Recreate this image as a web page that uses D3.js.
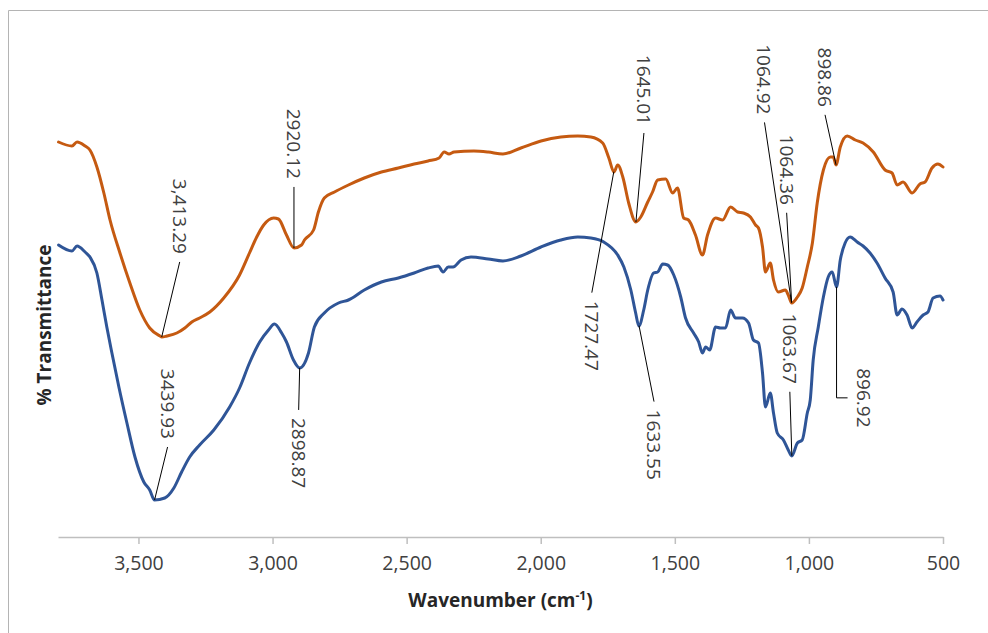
<!DOCTYPE html>
<html>
<head>
<meta charset="utf-8">
<script src="https://cdn.jsdelivr.net/npm/d3@7"></script>
<style>
  body { margin: 0; background: #fff; }
  svg { display: block; font-family: "Open Sans", sans-serif; }
</style>
</head>
<body>
<svg id="chart" width="988" height="633"></svg>
<script>
// x axis ticks (wavenumber, cm-1)
const xTicks = [3500, 3000, 2500, 2000, 1500, 1000, 500];

// orange spectrum: [wavenumber, %T]
const orangeSpectrum = [
    [3798, 79.0], [3748, 78.2], [3729, 79.0], [3699, 78.2], [3681, 77.4], [3655, 74.0],
    [3629, 68.8], [3606, 63.4], [3569, 56.8], [3532, 50.8], [3495, 45.4], [3458, 41.8],
    [3420, 40.2], [3413, 40.0], [3394, 40.2], [3357, 40.8], [3327, 41.8], [3301, 43.0],
    [3272, 43.8], [3234, 45.0], [3182, 47.8], [3123, 52.4], [3086, 56.8], [3059, 60.0],
    [3033, 62.4], [2996, 63.8], [2978, 63.6], [2948, 60.4], [2920, 57.8], [2892, 58.4],
    [2881, 59.4], [2847, 61.4], [2829, 65.0], [2807, 67.8], [2769, 69.0], [2717, 70.4],
    [2658, 71.8], [2594, 73.0], [2531, 73.8], [2472, 74.6], [2420, 75.2], [2379, 75.8],
    [2360, 77.0], [2342, 76.6], [2323, 77.0], [2249, 77.2], [2196, 77.0], [2141, 76.6],
    [2074, 77.8], [1999, 79.2], [1925, 80.0], [1862, 80.2], [1813, 80.0], [1769, 78.8],
    [1746, 75.8], [1727, 73.0], [1713, 74.4], [1694, 72.0], [1672, 66.8], [1645, 63.0],
    [1627, 64.0], [1601, 67.0], [1583, 69.0], [1564, 71.4], [1534, 71.6], [1508, 68.8],
    [1490, 69.8], [1467, 63.8], [1449, 63.4], [1423, 60.4], [1397, 56.4], [1378, 60.4],
    [1348, 63.8], [1322, 63.4], [1292, 66.0], [1266, 65.0], [1244, 64.8], [1218, 64.0],
    [1199, 62.4], [1188, 61.8], [1173, 58.0], [1162, 53.0], [1144, 54.8], [1132, 51.4],
    [1114, 49.0], [1088, 49.4], [1077, 48.4], [1064, 46.8], [1043, 48.0], [1025, 49.8],
    [1006, 54.0], [987, 58.8], [969, 66.8], [946, 73.4], [920, 76.0], [909, 76.0],
    [899, 74.4], [883, 78.0], [857, 80.2], [827, 79.4], [798, 78.8], [760, 77.0],
    [716, 73.4], [690, 72.8], [671, 70.4], [649, 71.0], [615, 68.8], [586, 70.6],
    [567, 71.0], [541, 73.8], [519, 74.6], [500, 74.0]
];

// blue spectrum: [wavenumber, %T]
const blueSpectrum = [
    [3798, 58.4], [3748, 57.2], [3729, 58.2], [3699, 57.0], [3681, 56.0], [3655, 52.8],
    [3636, 47.4], [3618, 42.0], [3599, 36.8], [3573, 30.0], [3543, 22.8], [3513, 16.0],
    [3480, 11.0], [3458, 9.4], [3440, 7.4], [3402, 7.8], [3368, 9.8], [3339, 13.0],
    [3309, 16.0], [3272, 18.4], [3219, 21.4], [3160, 26.0], [3123, 29.8], [3086, 34.8],
    [3048, 39.0], [3015, 41.4], [2993, 42.6], [2966, 40.8], [2948, 39.0], [2922, 35.4],
    [2899, 33.8], [2866, 36.8], [2844, 42.0], [2807, 44.8], [2754, 46.8], [2717, 47.4],
    [2658, 49.4], [2594, 51.0], [2531, 51.8], [2472, 52.8], [2420, 53.8], [2382, 54.2],
    [2364, 53.0], [2345, 54.0], [2327, 54.0], [2297, 55.4], [2260, 56.0], [2196, 55.6],
    [2141, 55.2], [2074, 56.2], [1999, 58.0], [1925, 59.4], [1862, 60.0], [1813, 59.8],
    [1765, 59.0], [1713, 56.4], [1690, 54.0], [1664, 49.4], [1646, 44.8], [1634, 42.2],
    [1616, 45.4], [1601, 49.4], [1579, 52.8], [1564, 53.0], [1545, 54.6], [1527, 54.4],
    [1504, 52.4], [1478, 48.0], [1460, 43.8], [1430, 40.8], [1411, 39.0], [1397, 36.8],
    [1385, 38.0], [1370, 37.4], [1348, 42.0], [1330, 41.8], [1311, 41.8], [1292, 45.4],
    [1274, 43.8], [1248, 43.8], [1225, 42.8], [1207, 39.4], [1188, 38.8], [1173, 32.8],
    [1162, 26.0], [1144, 28.8], [1132, 24.8], [1118, 20.8], [1095, 19.4], [1077, 17.4],
    [1064, 16.2], [1043, 18.8], [1025, 19.4], [1006, 24.8], [995, 27.4], [984, 35.4],
    [965, 42.0], [946, 48.0], [928, 52.0], [913, 53.0], [897, 50.0], [883, 55.4],
    [865, 58.8], [846, 60.0], [820, 59.0], [798, 58.2], [772, 56.8], [746, 54.8],
    [716, 51.8], [686, 49.0], [671, 44.4], [653, 45.6], [634, 44.4], [615, 41.8],
    [597, 43.0], [574, 44.4], [556, 45.0], [537, 47.8], [511, 48.2], [500, 47.4]
];

// peak labels
const peakLabels = ["3,413.29", "2920.12", "1645.01", "1727.47", "1064.92", "1064.36", "898.86",
    "3439.93", "2898.87", "1633.55", "1063.67", "896.92"];
const peakSeries = ["orange", "orange", "orange", "orange", "orange", "orange", "orange",
    "blue", "blue", "blue", "blue", "blue"];
const peakWavenumbers = [3413.29, 2920.12, 1645.01, 1727.47, 1064.92, 1064.36, 898.86,
    3439.93, 2898.87, 1633.55, 1063.67, 896.92];

// leader line end, relative to the peak (px); elbow = bent leader
const leaderOffsets = [
    { dx: 18, dy: -75 }, { dx: 0, dy: -61 }, { dx: 8, dy: -89 }, { dx: -22, dy: 121 },
    { dx: -27, dy: -180 }, { dx: -5, dy: -90 }, { dx: -11, dy: -50 },
    { dx: 13, dy: -53 }, { dx: -1, dy: 42 }, { dx: 15, dy: 76 }, { dx: -2, dy: -64 },
    { dx: 11, dy: 111, elbow: true }
];

const colors = { orange: "#C55A11", blue: "#2F5597" };
const spectra = { orange: orangeSpectrum, blue: blueSpectrum };

const svg = d3.select("#chart");

// chart border
svg.append("path")
    .attr("d", "M8.5,633 V10.5 H988")
    .attr("fill", "none")
    .attr("stroke", "#b4b4b4")
    .attr("stroke-width", 1);

const x = d3.scaleLinear().domain([3800, 500]).range([58, 943]);
const y = d3.scaleLinear().domain([0, 100]).range([537, 37]);

// x axis
const xAxis = svg.append("g")
    .attr("transform", `translate(0,${y(0)})`)
    .call(d3.axisBottom(x)
        .tickValues(xTicks)
        .tickSize(7)
        .tickSizeOuter(0)
        .tickPadding(12)
        .tickFormat(d3.format(",")));

xAxis.select(".domain").attr("stroke", "#bfbfbf").attr("stroke-width", 1.5);
xAxis.selectAll(".tick line").attr("stroke", "#bfbfbf").attr("stroke-width", 1.5);
xAxis.selectAll(".tick text")
    .attr("fill", "#404040")
    .style("font-size", "19.5px")
    .style("font-family", "'Open Sans', sans-serif");

// axis titles
const xTitle = svg.append("text")
    .attr("x", (x.range()[0] + x.range()[1]) / 2)
    .attr("y", 607)
    .attr("text-anchor", "middle")
    .attr("fill", "#262626")
    .style("font-weight", "bold")
    .style("font-size", "19px")
    .text("Wavenumber (cm");
xTitle.append("tspan")
    .attr("dy", -7)
    .style("font-size", "12px")
    .text("-1");
xTitle.append("tspan")
    .attr("dy", 7)
    .text(")");

svg.append("text")
    .attr("transform", `translate(44,325) rotate(-90)`)
    .attr("text-anchor", "middle")
    .attr("dominant-baseline", "central")
    .attr("fill", "#262626")
    .style("font-weight", "bold")
    .style("font-size", "19px")
    .text("% Transmittance");

// spectra lines
const line = d3.line()
    .x(d => x(d[0]))
    .y(d => y(d[1]))
    .curve(d3.curveMonotoneX);

["orange", "blue"].forEach(key => {
    svg.append("path")
        .datum(spectra[key])
        .attr("fill", "none")
        .attr("stroke", colors[key])
        .attr("stroke-width", 3)
        .attr("stroke-linejoin", "round")
        .attr("stroke-linecap", "round")
        .attr("d", line);
});

// value of a spectrum at a wavenumber
function valueAt(data, wn) {
    for (let i = 0; i < data.length - 1; i++) {
        const a = data[i], b = data[i + 1];
        if (wn <= a[0] && wn >= b[0]) {
            const t = (a[0] - wn) / (a[0] - b[0]);
            return a[1] + t * (b[1] - a[1]);
        }
    }
    return data[data.length - 1][1];
}

// peak annotations
const notes = svg.append("g");
peakLabels.forEach((label, i) => {
    const wn = peakWavenumbers[i];
    const px = x(wn);
    const py = y(valueAt(spectra[peakSeries[i]], wn));
    const off = leaderOffsets[i];
    const ex = px + off.dx, ey = py + off.dy;

    if (off.elbow) {
        notes.append("path")
            .attr("d", `M${px},${py} V${ey} H${ex}`)
            .attr("fill", "none")
            .attr("stroke", "#000")
            .attr("stroke-width", 1);
        notes.append("text")
            .attr("transform", `translate(${ex + 16},${ey}) rotate(90)`)
            .attr("text-anchor", "middle")
            .attr("dominant-baseline", "central")
            .attr("fill", "#404040")
            .style("font-size", "19px")
            .text(label);
        return;
    }

    notes.append("line")
        .attr("x1", px).attr("y1", py)
        .attr("x2", ex).attr("y2", ey)
        .attr("stroke", "#000")
        .attr("stroke-width", 1);

    const above = off.dy < 0;
    notes.append("text")
        .attr("transform", `translate(${ex},${above ? ey - 8 : ey + 8}) rotate(90)`)
        .attr("text-anchor", above ? "end" : "start")
        .attr("dominant-baseline", "central")
        .attr("fill", "#404040")
        .style("font-size", "19px")
        .text(label);
});
</script>
</body>
</html>
